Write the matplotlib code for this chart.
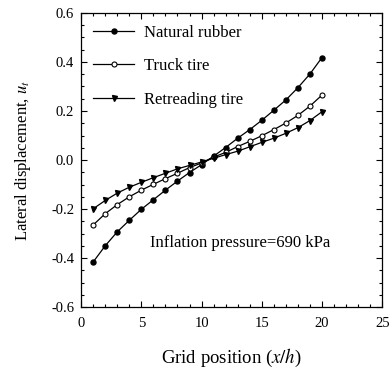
import matplotlib
matplotlib.use("Agg")
import matplotlib.pyplot as plt
from matplotlib.ticker import MultipleLocator, FormatStrFormatter

plt.rcParams['font.family'] = ['Liberation Serif', 'DejaVu Serif']
plt.rcParams['mathtext.fontset'] = 'stix'
plt.rcParams['axes.unicode_minus'] = False

grid_x = list(range(1, 21))
natural_rubber = [-0.416, -0.350, -0.293, -0.246, -0.201, -0.162, -0.123, -0.086, -0.051, -0.019,
                  0.016, 0.051, 0.089, 0.124, 0.162, 0.203, 0.245, 0.295, 0.351, 0.418]
truck_tire = [-0.265, -0.219, -0.182, -0.150, -0.123, -0.099, -0.076, -0.054, -0.031, -0.012,
              0.012, 0.031, 0.055, 0.076, 0.099, 0.124, 0.151, 0.182, 0.220, 0.265]
retreading_tire = [-0.199, -0.165, -0.135, -0.111, -0.091, -0.072, -0.054, -0.036, -0.022, -0.008,
                   0.007, 0.022, 0.036, 0.054, 0.072, 0.089, 0.109, 0.132, 0.161, 0.197]
labels = ['Natural rubber', 'Truck tire', 'Retreading tire']

fig = plt.figure(figsize=(3.9, 3.7), dpi=100)
ax = fig.add_axes([0.208, 0.170, 0.772, 0.795])

ax.plot(grid_x, natural_rubber, '-o', color='black', lw=0.9, ms=3.6, mfc='black', mec='black', label=labels[0])
ax.plot(grid_x, truck_tire, '-o', color='black', lw=0.9, ms=3.6, mfc='white', mec='black', mew=0.8, label=labels[1])
ax.plot(grid_x, retreading_tire, '-v', color='black', lw=0.9, ms=3.6, mfc='black', mec='black', label=labels[2])

ax.set_xlim(0, 25)
ax.set_ylim(-0.6, 0.6)
ax.xaxis.set_major_locator(MultipleLocator(5))
ax.xaxis.set_minor_locator(MultipleLocator(1))
ax.yaxis.set_major_locator(MultipleLocator(0.2))
ax.yaxis.set_minor_locator(MultipleLocator(0.05))
ax.yaxis.set_major_formatter(FormatStrFormatter('%.1f'))
ax.tick_params(which='both', direction='in', top=True, right=True, labelsize=10.5, width=0.8)
ax.tick_params(which='major', length=4, pad=5)
ax.tick_params(axis='x', which='major', pad=7)
ax.tick_params(which='minor', length=2)
for s in ax.spines.values():
    s.set_linewidth(0.9)

ax.set_xlabel(r'Grid position ($x/h$)', fontsize=13.5, labelpad=12)
ax.set_ylabel(r'Lateral displacement, $u_t$', fontsize=12, labelpad=13)

ax.text(5.7, -0.337, 'Inflation pressure=690 kPa', fontsize=12, ha='left', va='center')

ax.legend(loc='upper left', frameon=False, fontsize=12, handlelength=2.5, labelspacing=1.05,
          handletextpad=0.6, borderaxespad=0.3, bbox_to_anchor=(0.0, 1.0))

fig.savefig('out.png', dpi=100)
